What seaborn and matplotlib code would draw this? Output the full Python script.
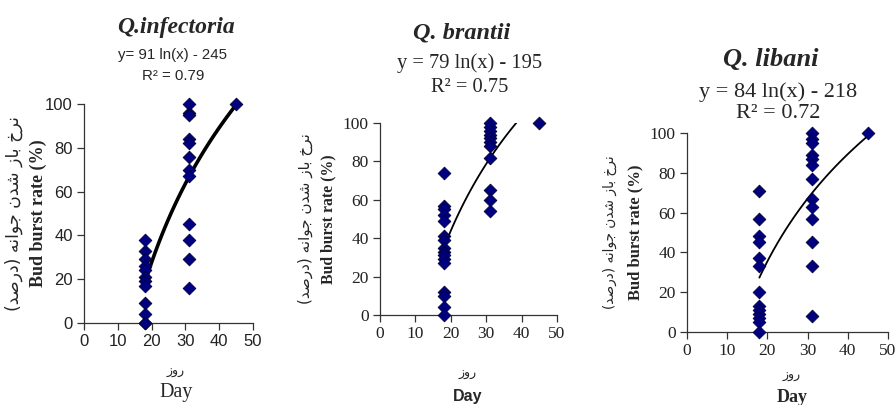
import matplotlib
matplotlib.use("Agg")
import matplotlib.pyplot as plt
import seaborn as sns
import numpy as np
import pandas as pd

# ---------------- data ----------------
days = [18, 31, 45]

infectoria_d18 = [38, 33, 29, 26, 24, 21, 19, 17, 9, 4, 0, 0]
infectoria_d31 = [100, 96, 95, 84, 82, 76, 70, 67, 45, 38, 29, 16]
infectoria_d45 = [100]

brantii_d18 = [74, 57, 55, 52, 49, 41, 39, 35, 33, 31, 29, 27, 12, 10, 4, 0]
brantii_d31 = [100, 98, 96, 94, 92, 90, 88, 82, 65, 60, 54]
brantii_d45 = [100]

libani_d18 = [71, 57, 48, 45, 37, 33, 20, 13, 11, 9, 7, 5, 0]
libani_d31 = [100, 97, 95, 89, 87, 84, 77, 67, 63, 57, 45, 33, 8]
libani_d45 = [100]

titles = ["Q.infectoria", "Q. brantii", "Q. libani"]
equations = ["y= 91 ln(x) - 245", "y = 79 ln(x) - 195", "y = 84 ln(x) - 218"]
r2_labels = ["R² = 0.79", "R² = 0.75", "R² = 0.72"]
ylabel_en = "Bud burst rate (%)"
ylabel_fa = "نرخ باز شدن جوانه (درصد)"
xlabel_en = "Day"
xlabel_fa = "روز"
xticks = [0, 10, 20, 30, 40, 50]
yticks = [0, 20, 40, 60, 80, 100]


# ------------- minimal Persian shaping (visual order) -------------
FORMS = {
    'ا': ('\uFE8D', '\uFE8E', None, None),
    'ب': ('\uFE8F', '\uFE90', '\uFE91', '\uFE92'),
    'ج': ('\uFE9D', '\uFE9E', '\uFE9F', '\uFEA0'),
    'خ': ('\uFEA5', '\uFEA6', '\uFEA7', '\uFEA8'),
    'د': ('\uFEA9', '\uFEAA', None, None),
    'ر': ('\uFEAD', '\uFEAE', None, None),
    'ز': ('\uFEAF', '\uFEB0', None, None),
    'ش': ('\uFEB5', '\uFEB6', '\uFEB7', '\uFEB8'),
    'ص': ('\uFEB9', '\uFEBA', '\uFEBB', '\uFEBC'),
    'ن': ('\uFEE5', '\uFEE6', '\uFEE7', '\uFEE8'),
    'ه': ('\uFEE9', '\uFEEA', '\uFEEB', '\uFEEC'),
    'و': ('\uFEED', '\uFEEE', None, None),
}


def shape_rtl(s):
    out = []
    for i, c in enumerate(s):
        if c not in FORMS:
            out.append(c)
            continue
        prev = s[i - 1] if i > 0 else None
        nxt = s[i + 1] if i + 1 < len(s) else None
        jp = prev in FORMS and FORMS[prev][2] is not None
        jn = nxt in FORMS and FORMS[c][2] is not None
        iso, fin, ini, med = FORMS[c]
        if jp and jn:
            out.append(med)
        elif jp:
            out.append(fin)
        elif jn:
            out.append(ini)
        else:
            out.append(iso)
    return ''.join(reversed(out)).translate(str.maketrans('()', ')('))


# ---------------- figure ----------------
sns.set_style("ticks")
plt.rcParams['font.family'] = ['Liberation Serif', 'DejaVu Sans']

W, H = 896, 405
fig = plt.figure(figsize=(W / 100, H / 100), dpi=100)


def fx(px):
    return px / W


def fy(py):
    return 1 - py / H


def ax_rect(l, r, t, b):
    return [fx(l), fy(b), (r - l) / W, (b - t) / H]


panels = [
    dict(d18=infectoria_d18, d31=infectoria_d31, d45=infectoria_d45,
         rect=ax_rect(84, 253, 104, 323), tick_font=['Liberation Sans'], tick_size=12,
         lw=2.6, title_xy=(176, 27), title_size=17, eq_xy=(172, 55), r2_xy=(173, 76),
         eq_font=['Liberation Sans'], eq_size=10.8,
         yfa_x=14, yen_x=38, xfa_y=372, xday_y=393, x_c=176,
         day_font=['Liberation Serif'], day_weight='normal', day_size=14.5,
         en_size=13, fa_size=12.5),
    dict(d18=brantii_d18, d31=brantii_d31, d45=brantii_d45,
         rect=ax_rect(380, 557, 123, 315), tick_font=['Liberation Serif'], tick_size=12.5,
         lw=1.3, title_xy=(462, 33), title_size=17.5, eq_xy=(470, 63), r2_xy=(470, 88),
         eq_font=['Liberation Serif'], eq_size=14.8,
         yfa_x=305, yen_x=328, xfa_y=373, xday_y=397, x_c=468,
         day_font=['Liberation Sans'], day_weight='bold', day_size=11.5,
         en_size=11.3, fa_size=11),
    dict(d18=libani_d18, d31=libani_d31, d45=libani_d45,
         rect=ax_rect(687, 888, 133, 332), tick_font=['Liberation Serif'], tick_size=12.5,
         lw=1.3, title_xy=(771, 60), title_size=19, eq_xy=(778, 92), r2_xy=(778, 113),
         eq_font=['Liberation Serif'], eq_size=16,
         yfa_x=610, yen_x=635, xfa_y=375, xday_y=397, x_c=792,
         day_font=['Liberation Serif'], day_weight='bold', day_size=13,
         en_size=12, fa_size=9.8),
]

for i, p in enumerate(panels):
    x = [days[0]] * len(p['d18']) + [days[1]] * len(p['d31']) + [days[2]] * len(p['d45'])
    y = p['d18'] + p['d31'] + p['d45']
    df = pd.DataFrame({"day": x, "rate": y})
    ax = fig.add_axes(p['rect'])
    sns.regplot(data=df, x="day", y="rate", ax=ax, logx=True, ci=None, truncate=True,
                marker='D',
                scatter_kws=dict(s=42, color='#000080', edgecolors='#00003a',
                                 linewidths=0.6, alpha=1, clip_on=False, zorder=3),
                line_kws=dict(color='black', lw=p['lw'], zorder=2))
    ax.set_xlim(0, 50)
    ax.set_ylim(0, 100)
    ax.set_xticks(xticks)
    ax.set_yticks(yticks)
    ax.set_xlabel("")
    ax.set_ylabel("")
    sns.despine(ax=ax)
    for s in ['left', 'bottom']:
        ax.spines[s].set_linewidth(0.9)
        ax.spines[s].set_color('#333333')
    ax.tick_params(direction='out', length=5, width=0.9, color='#333333',
                   labelsize=p['tick_size'], pad=3)
    for lab in ax.get_xticklabels() + ax.get_yticklabels():
        lab.set_family(p['tick_font'])
        lab.set_color('#222222')

    fig.text(fx(p['title_xy'][0]), fy(p['title_xy'][1]), titles[i], ha='center', va='center',
             fontsize=p['title_size'], fontweight='bold', fontstyle='italic',
             family=['Liberation Serif'])
    fig.text(fx(p['eq_xy'][0]), fy(p['eq_xy'][1]), equations[i], ha='center', va='center',
             fontsize=p['eq_size'], family=p['eq_font'])
    fig.text(fx(p['r2_xy'][0]), fy(p['r2_xy'][1]), r2_labels[i], ha='center', va='center',
             fontsize=p['eq_size'], family=p['eq_font'])

    ycen = (p['rect'][1] + p['rect'][3] / 2)
    fig.text(fx(p['yfa_x']), ycen, shape_rtl(ylabel_fa), rotation=90, ha='center', va='center',
             fontsize=p['fa_size'], family=['DejaVu Sans'])
    fig.text(fx(p['yen_x']), ycen, ylabel_en, rotation=90, ha='center', va='center',
             fontsize=p['en_size'], fontweight='bold', family=['Liberation Serif'])
    fig.text(fx(p['x_c']), fy(p['xfa_y']), shape_rtl(xlabel_fa), ha='center', va='center',
             fontsize=9, family=['DejaVu Sans'])
    fig.text(fx(p['x_c']), fy(p['xday_y']), xlabel_en, ha='center', va='center',
             fontsize=p['day_size'], fontweight=p['day_weight'], family=p['day_font'])

fig.savefig("out.png", dpi=100)
